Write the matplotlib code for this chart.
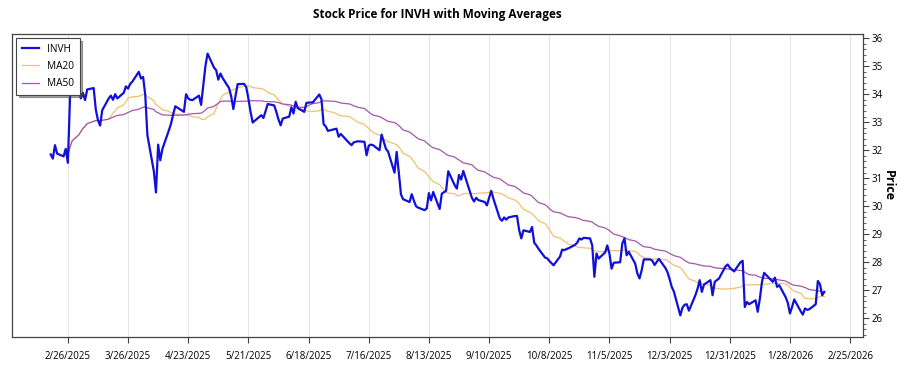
import numpy as np
import pandas as pd
import matplotlib
matplotlib.use("Agg")
import matplotlib.pyplot as plt
from matplotlib.ticker import AutoMinorLocator, MultipleLocator, FuncFormatter
import matplotlib.dates as mdates

plt.rcParams["font.family"] = ["Open Sans", "DejaVu Sans"]

ticker = "INVH"

# NYSE holidays inside the window
holidays = ["2025-04-18", "2025-05-26", "2025-06-19", "2025-07-04", "2025-09-01",
            "2025-11-27", "2025-12-25", "2026-01-01", "2026-01-19"]

# daily closes (one list per month)
feb25 = [31.85, 31.70, 32.18, 31.88, 31.78, 32.05, 31.55, 33.90, 34.15]
mar25 = [34.38, 33.85, 34.05, 33.79, 34.17, 34.22, 33.45, 33.07, 32.88, 33.43,
         33.85, 33.95, 33.80, 34.00, 33.85, 34.05, 34.28, 34.20, 34.37, 34.45, 34.80]
apr25 = [34.56, 34.62, 33.98, 32.54, 31.25, 30.49, 32.20, 31.64, 32.05, 32.71,
         32.95, 33.28, 33.57, 33.37, 34.00, 33.85, 33.80, 33.79, 33.95, 33.62, 34.30]
may25 = [35.00, 35.45, 34.95, 34.86, 34.52, 34.74, 34.58, 34.22, 33.92, 33.47,
         33.93, 34.36, 34.37, 34.25, 33.85, 33.37, 32.99, 33.25, 33.15, 33.40, 33.65]
jun25 = [33.60, 33.37, 33.10, 32.89, 33.13, 33.20, 33.53, 33.31, 33.73, 33.50,
         33.37, 33.69, 33.70, 33.71, 33.99, 33.82, 32.93, 32.85, 32.69, 32.75]
jul25 = [32.77, 32.48, 32.58, 32.25, 32.18, 32.28, 32.30, 32.32, 32.30, 31.82,
         32.16, 32.20, 32.18, 32.00, 32.56, 32.30, 32.05, 31.95, 31.20, 31.94, 31.20, 30.42]
aug25 = [30.25, 30.15, 30.43, 30.20, 30.00, 29.95, 29.86, 29.92, 30.47, 30.21,
         30.51, 29.90, 30.45, 30.50, 30.55, 31.25, 30.75, 30.63, 31.12, 30.95, 31.26]
sep25 = [30.30, 30.17, 30.30, 30.22, 30.15, 30.03, 30.30, 30.55, 30.27, 29.56,
         29.48, 29.60, 29.52, 29.60, 29.65, 29.65, 29.15, 28.85, 29.14, 29.08, 29.26]
oct25 = [28.70, 28.60, 28.48, 28.17, 28.14, 28.05, 27.97, 27.89, 28.20, 28.45,
         28.43, 28.47, 28.50, 28.62, 28.70, 28.85, 28.81, 28.87, 28.85, 28.60,
         27.48, 28.31, 28.13]
nov25 = [28.35, 28.60, 28.31, 27.77, 27.98, 28.00, 28.67, 28.85, 28.25, 28.37,
         27.95, 27.60, 27.42, 27.71, 28.10, 28.10, 28.05, 27.90, 28.12]
dec25 = [27.80, 27.65, 27.40, 27.12, 26.95, 26.10, 26.38, 26.48, 26.50, 26.27,
         26.82, 27.05, 27.36, 26.94, 27.20, 27.36, 26.82, 27.30, 27.42, 27.85, 27.92, 27.81]
jan26 = [27.67, 28.00, 28.05, 26.40, 26.58, 26.50, 26.64, 26.23, 26.70, 27.30,
         27.62, 27.30, 27.45, 27.12, 27.18, 26.75, 26.55, 26.17, 26.40, 26.67]
feb26 = [26.25, 26.13, 26.35, 26.30, 26.32, 26.50, 27.33, 27.21, 26.82, 26.94]

close = feb25 + mar25 + apr25 + may25 + jun25 + jul25 + aug25 + sep25 + oct25 + nov25 + dec25 + jan26 + feb26
dates = pd.bdate_range("2025-02-18", "2026-02-13", freq="C", holidays=holidays)

s = pd.Series(close, index=dates)
ma20 = s.rolling(20, min_periods=1).mean()
ma50 = s.rolling(50, min_periods=1).mean()
ma_from = pd.Timestamp("2025-02-26")

tick_dates = pd.date_range("2025-02-26", "2026-02-25", freq="28D")

fig = plt.figure(figsize=(9, 3.75), dpi=100)
ax = fig.add_axes([12 / 900, 1 - 336.7 / 375, 851 / 900, 302.4 / 375])

ax.plot(s.index, s.values, color="#1010d8", lw=1.6, label=ticker, zorder=3)
ax.plot(ma20[ma_from:].index, ma20[ma_from:].values, color="#f2c070", lw=0.9, label="MA20", zorder=2)
ax.plot(ma50[ma_from:].index, ma50[ma_from:].values, color="#a656ad", lw=0.9, label="MA50", zorder=2)

ax.set_xlim(pd.Timestamp("2025-01-31"), pd.Timestamp("2026-03-03"))
ax.set_ylim(25.34, 36.14)

ax.set_xticks(tick_dates)
ax.xaxis.set_major_formatter(FuncFormatter(
    lambda v, p: (lambda d: f"{d.month}/{d.day}/{d.year}")(mdates.num2date(v))))
ax.grid(axis="x", color="#e6e6e6", lw=0.7)
ax.set_axisbelow(True)

ax.yaxis.tick_right()
ax.yaxis.set_label_position("right")
ax.yaxis.set_major_locator(MultipleLocator(1))
ax.yaxis.set_minor_locator(AutoMinorLocator(5))
ax.tick_params(axis="x", labelsize=7, length=4, pad=6, color="#444")
ax.tick_params(axis="y", which="major", labelsize=7, length=4, pad=2, color="#444")
ax.tick_params(axis="y", which="minor", length=2, color="#444")
ax.set_ylabel("Price", fontsize=9, fontweight="bold", rotation=270, labelpad=9)

for sp in ax.spines.values():
    sp.set_color("#444444")
    sp.set_linewidth(0.9)

ax.set_title("Stock Price for INVH with Moving Averages", fontsize=8.5, fontweight="bold", pad=12)

leg = ax.legend(loc="upper left", fontsize=7.3, frameon=True, fancybox=False, shadow=True,
                edgecolor="#444444", framealpha=1, handlelength=1.7, borderaxespad=0.4,
                labelspacing=0.6, borderpad=0.55)
leg.get_frame().set_linewidth(0.8)

fig.savefig("out.png", dpi=100)
